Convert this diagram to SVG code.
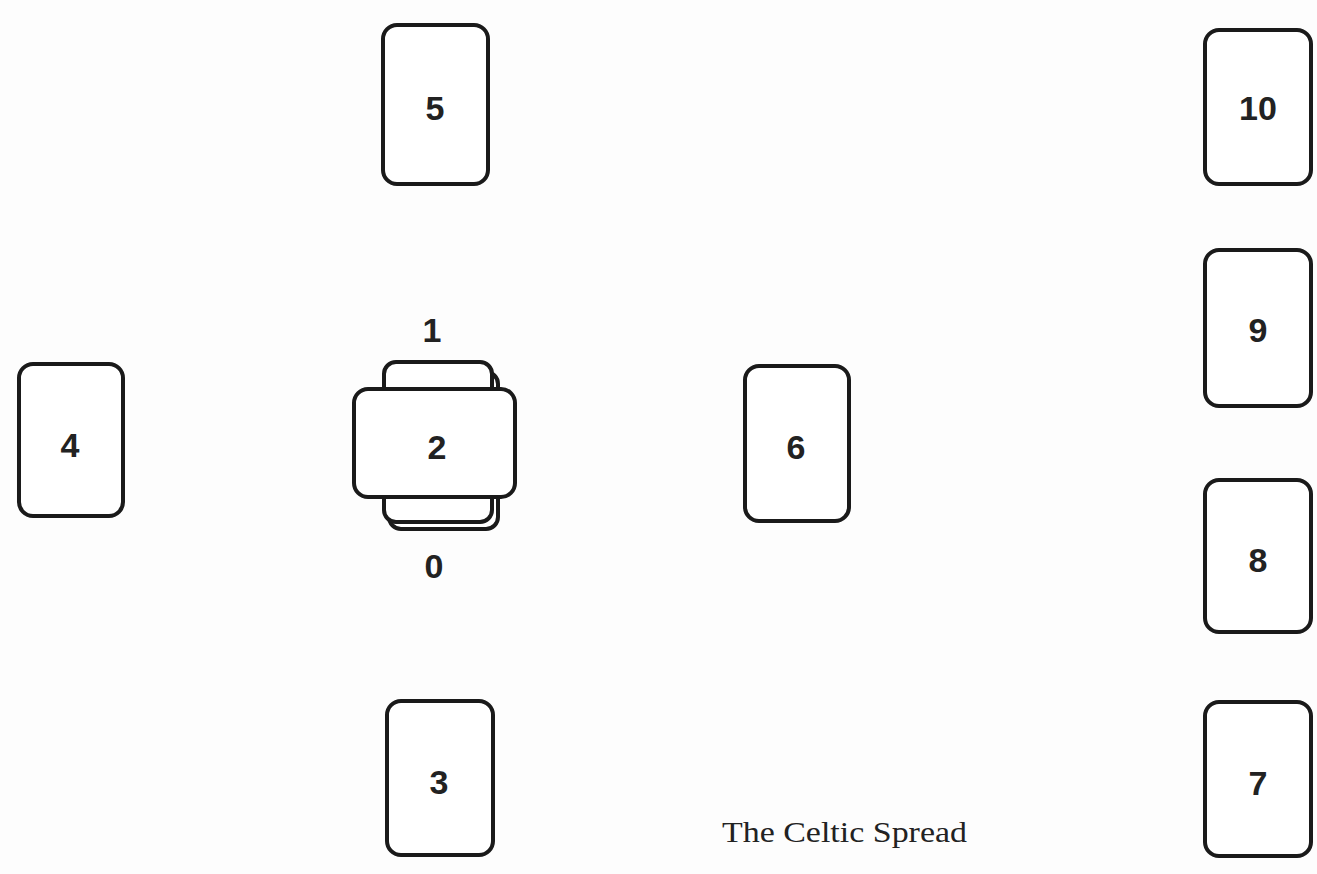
<svg xmlns="http://www.w3.org/2000/svg" width="1317" height="874" viewBox="0 0 1317 874">
<style>
.card{fill:#fff;stroke:#1a1a1a;stroke-width:4;}
.num{font-family:"Liberation Sans",Arial,sans-serif;font-weight:bold;font-size:34px;fill:#222;text-anchor:middle;}
.cap{font-family:"Liberation Serif","Times New Roman",serif;font-size:29px;fill:#222;}
</style>
<rect x="0" y="0" width="1317" height="874" fill="#fdfdfd"/>
<g id="card5"><rect class="card" x="383" y="25" width="105" height="159" rx="14"/><text class="num" x="435" y="120">5</text></g>
<g id="card10"><rect class="card" x="1205" y="30" width="106" height="154" rx="14"/><text class="num" x="1258" y="120">10</text></g>
<g id="card9"><rect class="card" x="1205" y="250" width="106" height="156" rx="14"/><text class="num" x="1258" y="342">9</text></g>
<g id="card8"><rect class="card" x="1205" y="480" width="106" height="152" rx="14"/><text class="num" x="1258" y="572">8</text></g>
<g id="card7"><rect class="card" x="1205" y="702" width="106" height="154" rx="14"/><text class="num" x="1258" y="795">7</text></g>
<g id="card4"><rect class="card" x="19" y="364" width="104" height="152" rx="14"/><text class="num" x="70" y="457">4</text></g>
<g id="card6"><rect class="card" x="745" y="366" width="104" height="155" rx="14"/><text class="num" x="796" y="459">6</text></g>
<g id="card3"><rect class="card" x="387" y="701" width="106" height="154" rx="14"/><text class="num" x="439" y="794">3</text></g>
<g id="card0"><rect class="card" x="389" y="372" width="109" height="157" rx="12"/></g>
<g id="card1"><rect class="card" x="384" y="362" width="108" height="160" rx="12"/><text class="num" x="432" y="342">1</text></g>
<g id="card2"><rect class="card" x="354" y="389" width="161" height="108" rx="14"/><text class="num" x="437" y="459">2</text></g>
<g id="label0"><text class="num" x="434" y="578">0</text></g>
<g id="caption"><text class="cap" x="722" y="842" textLength="245" lengthAdjust="spacingAndGlyphs">The Celtic Spread</text></g>
<g id="connectors"></g>
</svg>
